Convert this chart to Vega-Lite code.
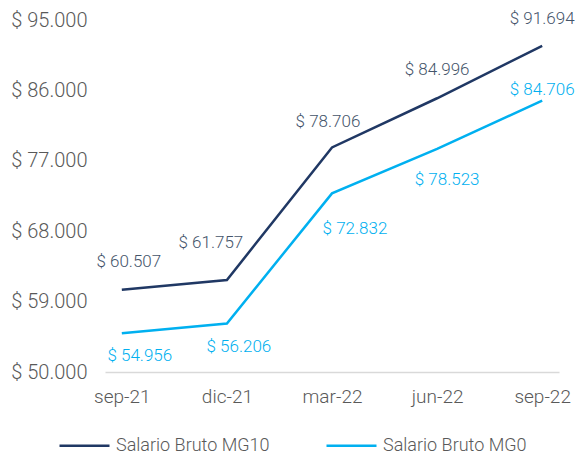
{
  "$schema": "https://vega.github.io/schema/vega-lite/v6.json",
  "width": 454,
  "height": 352,
  "autosize": {"type": "none"},
  "padding": {"left": 105, "top": 20, "right": 16, "bottom": 83},
  "background": "white",
  "config": {
    "view": {"stroke": null},
    "font": "Roboto",
    "text": {"fontSize": 17, "fontWeight": 300},
    "locale": {"number": {"decimal": ",", "thousands": ".", "grouping": [3], "currency": ["$ ", ""]}}
  },
  "data": {
    "values": [
      {"mes": "sep-21", "serie": "Salario Bruto MG10", "valor": 60507},
      {"mes": "dic-21", "serie": "Salario Bruto MG10", "valor": 61757},
      {"mes": "mar-22", "serie": "Salario Bruto MG10", "valor": 78706},
      {"mes": "jun-22", "serie": "Salario Bruto MG10", "valor": 84996},
      {"mes": "sep-22", "serie": "Salario Bruto MG10", "valor": 91694},
      {"mes": "sep-21", "serie": "Salario Bruto MG0", "valor": 54956},
      {"mes": "dic-21", "serie": "Salario Bruto MG0", "valor": 56206},
      {"mes": "mar-22", "serie": "Salario Bruto MG0", "valor": 72832},
      {"mes": "jun-22", "serie": "Salario Bruto MG0", "valor": 78523},
      {"mes": "sep-22", "serie": "Salario Bruto MG0", "valor": 84706}
    ]
  },
  "encoding": {
    "x": {
      "field": "mes", "type": "ordinal",
      "sort": ["sep-21", "dic-21", "mar-22", "jun-22", "sep-22"],
      "scale": {"type": "point", "padding": 0.16},
      "axis": {
        "title": null, "labelAngle": 0, "ticks": false, "grid": false,
        "domainColor": "#d9d9d9", "domainWidth": 1.5,
        "labelFontSize": 19, "labelFontWeight": 300, "labelColor": "#595959", "labelPadding": 15
      }
    },
    "y": {
      "field": "valor", "type": "quantitative",
      "scale": {"domain": [50000, 95000], "nice": false, "zero": false},
      "axis": {
        "title": null, "values": [50000, 59000, 68000, 77000, 86000, 95000],
        "format": "$,.0f", "grid": false, "domain": false, "ticks": false,
        "labelFontSize": 20, "labelFontWeight": 300, "labelColor": "#595959", "labelPadding": 18
      }
    },
    "text": {"field": "valor", "type": "quantitative", "format": "$,.0f"}
  },
  "layer": [
    {
      "mark": {"type": "line", "strokeWidth": 2.5},
      "encoding": {
        "text": null,
        "color": {
          "field": "serie", "type": "nominal",
          "scale": {"domain": ["Salario Bruto MG10", "Salario Bruto MG0"], "range": ["#203864", "#00b0f0"]},
          "legend": {
            "title": null, "orient": "none", "direction": "horizontal",
            "legendX": -47, "legendY": 399,
            "symbolType": "stroke", "symbolSize": 2500, "symbolStrokeWidth": 2.5,
            "labelFontSize": 18, "labelFontWeight": 300, "labelColor": "#595959",
            "labelOffset": 5, "labelLimit": 400, "columnPadding": 51
          }
        }
      }
    },
    {"transform": [{"filter": "datum.serie == 'Salario Bruto MG10' && datum.mes == 'sep-21'"}],
     "mark": {"type": "text", "dx": 7, "dy": -28, "color": "#44546a"}},
    {"transform": [{"filter": "datum.serie == 'Salario Bruto MG10' && datum.mes == 'dic-21'"}],
     "mark": {"type": "text", "dx": -16, "dy": -37, "color": "#44546a"}},
    {"transform": [{"filter": "datum.serie == 'Salario Bruto MG10' && datum.mes == 'mar-22'"}],
     "mark": {"type": "text", "dx": -4, "dy": -25, "color": "#44546a"}},
    {"transform": [{"filter": "datum.serie == 'Salario Bruto MG10' && datum.mes == 'jun-22'"}],
     "mark": {"type": "text", "dx": 0, "dy": -28, "color": "#44546a"}},
    {"transform": [{"filter": "datum.serie == 'Salario Bruto MG10' && datum.mes == 'sep-22'"}],
     "mark": {"type": "text", "dx": 0, "dy": -27, "color": "#44546a"}},
    {"transform": [{"filter": "datum.serie == 'Salario Bruto MG0' && datum.mes == 'sep-21'"}],
     "mark": {"type": "text", "dx": 18, "dy": 23, "color": "#00b0f0"}},
    {"transform": [{"filter": "datum.serie == 'Salario Bruto MG0' && datum.mes == 'dic-21'"}],
     "mark": {"type": "text", "dx": 12, "dy": 24, "color": "#00b0f0"}},
    {"transform": [{"filter": "datum.serie == 'Salario Bruto MG0' && datum.mes == 'mar-22'"}],
     "mark": {"type": "text", "dx": 23, "dy": 36, "color": "#00b0f0"}},
    {"transform": [{"filter": "datum.serie == 'Salario Bruto MG0' && datum.mes == 'jun-22'"}],
     "mark": {"type": "text", "dx": 10, "dy": 31, "color": "#00b0f0"}},
    {"transform": [{"filter": "datum.serie == 'Salario Bruto MG0' && datum.mes == 'sep-22'"}],
     "mark": {"type": "text", "dx": 0, "dy": -11, "color": "#00b0f0"}}
  ]
}
